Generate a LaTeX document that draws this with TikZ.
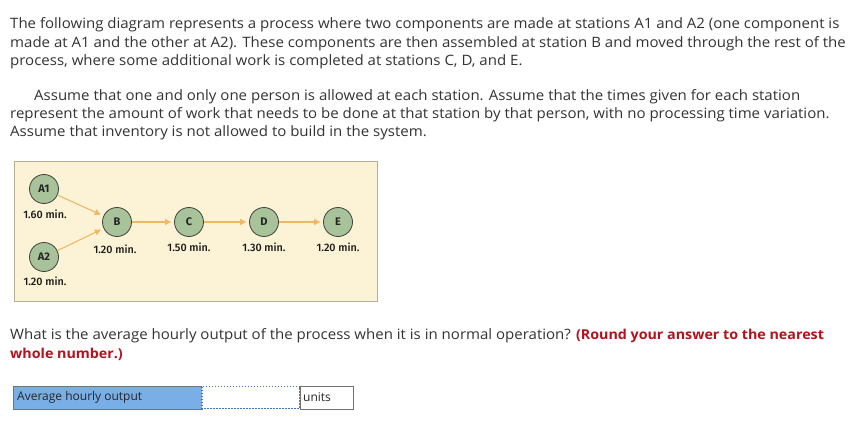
\documentclass[tikz,border=0pt]{standalone}
\usepackage{fontspec}
\setmainfont{Open Sans}[FakeStretch=1.05]
\newfontfamily\boxfont{Open Sans}
\newfontfamily\diagfont{Fira Sans}
\newfontfamily\diagmed{Fira Sans Medium}
\usetikzlibrary{arrows.meta}
\definecolor{bgyel}{HTML}{FCF2D6}
\definecolor{frame}{HTML}{B8AE98}
\definecolor{sage}{HTML}{A8C29A}
\definecolor{arr}{HTML}{F0B865}
\definecolor{txt}{HTML}{333333}
\definecolor{ansred}{HTML}{B3121D}
\definecolor{boxblue}{HTML}{7AAEE6}
\definecolor{dotblue}{HTML}{3C78C0}
\tikzset{
  para/.style={anchor=base west, inner sep=0pt, font=\fontsize{14.3}{17}\selectfont, text=txt},
  redbold/.style={font=\fontsize{13.6}{17}\selectfont\bfseries, text=ansred},
  station/.style={circle, draw=black!75, line width=0.8pt, fill=sage, minimum size=29pt, inner sep=0pt, font=\diagfont\fontsize{11}{12}\selectfont\bfseries, text=black!85},
  tlabel/.style={inner sep=0pt, font=\diagmed\fontsize{10.8}{12}\selectfont, text=black!90},
  flow/.style={draw=arr, line width=1.1pt, -{Triangle[length=6pt,width=6pt]}, shorten >=3pt},
}
\begin{document}
\begin{tikzpicture}[x=1pt,y=-1pt]
\useasboundingbox (0,0) rectangle (855,444);
\fill[white] (0,0) rectangle (855,444);
% text
\node[para] (l1) at (10,29) {The following diagram represents a process where two components are made at stations A1 and A2 (one component is};
\node[para] (l2) at (10,48) {made at A1 and the other at A2). These components are then assembled at station B and moved through the rest of the};
\node[para] (l3) at (10,66) {process, where some additional work is completed at stations C, D, and E.};
\node[para] (l4) at (34,100) {Assume that one and only one person is allowed at each station. Assume that the times given for each station};
\node[para] (l5) at (10,118) {represent the amount of work that needs to be done at that station by that person, with no processing time variation.};
\node[para] (l6) at (10,136) {Assume that inventory is not allowed to build in the system.};
% diagram
\draw[frame, fill=bgyel, line width=0.8pt] (14,161) rectangle (377,301);
\node[station] (A1) at (44,189) {A1};
\node[station] (A2) at (44,257) {A2};
\node[station] (B) at (117,222) {B};
\node[station] (C) at (189,222) {C};
\node[station] (D) at (264,222) {D};
\node[station] (E) at (338,222) {E};
\node[tlabel] (tA1) at (45,214) {1.60 min.};
\node[tlabel] (tA2) at (45,281) {1.20 min.};
\node[tlabel] (tB) at (115,249) {1.20 min.};
\node[tlabel] (tC) at (189,247) {1.50 min.};
\node[tlabel] (tD) at (264,247) {1.30 min.};
\node[tlabel] (tE) at (338,247) {1.20 min.};
\draw[flow] (A1) -- (B);
\draw[flow] (A2) -- (B);
\draw[flow] (B) -- (C);
\draw[flow] (C) -- (D);
\draw[flow] (D) -- (E);
% question
\node[para] (q1) at (10,339) {What is the average hourly output of the process when it is in normal operation? {\color{ansred}\fontsize{13.6}{17}\selectfont\bfseries(Round your answer to the nearest}};
\node[para, redbold] (q2) at (10,358) {whole number.)};
% answer box
\draw[fill=boxblue, draw=black!55, line width=0.8pt] (13,386) rectangle (202,409);
\node[anchor=west, inner sep=0pt, font=\boxfont\fontsize{12}{14}\selectfont, text=black!85] (lab) at (17,397.5) {Average hourly output};
\fill[white] (202,386) rectangle (300,409);
\draw[dotblue, line width=1.4pt, dash pattern=on 1.5pt off 1.5pt] (202,386.7) rectangle (300,408.3);
\draw[draw=black!55, line width=0.8pt] (300,386) rectangle (353,409);
\node[anchor=west, inner sep=0pt, font=\boxfont\fontsize{12}{14}\selectfont, text=black!85] (units) at (303,397.5) {units};
\end{tikzpicture}
\end{document}
